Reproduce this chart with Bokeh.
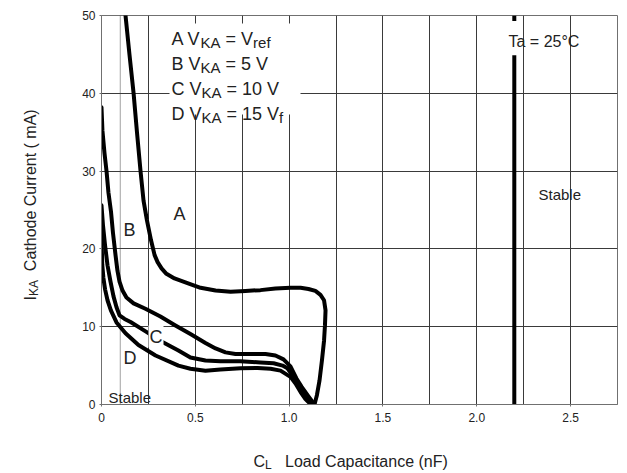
import math
from bokeh.plotting import figure
from bokeh.models import Label, FixedTicker, BoxAnnotation, Range1d
from bokeh.layouts import row, column
from bokeh.embed import file_html
from bokeh.resources import INLINE

# ---------------- data ----------------
x_min, x_max = 0.0, 2.75
y_min, y_max = 0.0, 50.0
x_tick_values = [0, 0.5, 1.0, 1.5, 2.0, 2.5]
x_tick_labels = ["0", "0.5", "1.0", "1.5", "2.0", "2.5"]
x_grid_values = [0.25, 0.5, 0.75, 1.0, 1.25, 1.5, 1.75, 2.0, 2.25, 2.5]
y_tick_values = [0, 10, 20, 30, 40, 50]
y_tick_labels = ["0", "10", "20", "30", "40", "50"]
y_grid_values = [10, 20, 30, 40]

# Curve A: VKA = Vref
curve_a_x = [0.128, 0.149, 0.171, 0.189, 0.208, 0.224, 0.242, 0.264, 0.283, 0.299, 0.32,
             0.346, 0.389, 0.458, 0.528, 0.608, 0.688, 0.767, 0.847, 0.927, 1.007, 1.061,
             1.103, 1.14, 1.167, 1.186, 1.194, 1.191, 1.186, 1.175, 1.162, 1.148, 1.135]
curve_a_y = [50, 45, 40, 35, 30, 26.2, 23.7, 21.1, 19.2, 18.3, 17.5,
             16.8, 16.2, 15.6, 15.0, 14.65, 14.5, 14.6, 14.7, 14.9, 15.0, 15.0,
             14.85, 14.6, 14.1, 13.4, 12.1, 10.2, 8.2, 5.7, 3.1, 1.2, 0]
# Curve B: VKA = 5 V
curve_b_x = [0, 0.005, 0.016, 0.027, 0.037, 0.051, 0.061, 0.075, 0.085, 0.096, 0.112,
             0.133, 0.171, 0.234, 0.314, 0.394, 0.474, 0.554, 0.608, 0.661, 0.714, 0.794,
             0.874, 0.927, 0.97, 1.007, 1.039, 1.066, 1.103, 1.135]
curve_b_y = [38.2, 35.2, 32.3, 29.95, 27.25, 24.7, 22.1, 19.15, 17.2, 15.8, 14.65,
             13.75, 13.0, 12.3, 11.3, 10.15, 9.05, 7.9, 7.2, 6.7, 6.5, 6.5,
             6.5, 6.3, 5.8, 4.9, 3.35, 2.3, 1.05, 0]
# Curve C: VKA = 10 V
curve_c_x = [0, 0.008, 0.019, 0.032, 0.048, 0.064, 0.08, 0.096, 0.123, 0.155, 0.235, 0.32,
             0.41, 0.474, 0.554, 0.634, 0.74, 0.847, 0.917, 0.965, 0.991, 1.018, 1.039,
             1.066, 1.087, 1.13]
curve_c_y = [25.6, 23.0, 20.45, 17.9, 15.8, 13.9, 12.5, 11.45, 11.0, 10.6, 9.4, 8.1,
             6.95, 6.05, 5.65, 5.55, 5.55, 5.4, 5.3, 5.0, 4.65, 3.75, 2.85,
             1.8, 1.05, 0]
# Curve D: VKA = 15 V
curve_d_x = [0, 0.002, 0.004, 0.01, 0.019, 0.032, 0.05, 0.08, 0.128, 0.197, 0.288, 0.41,
             0.474, 0.554, 0.634, 0.741, 0.832, 0.901, 0.954, 1.007, 1.034, 1.061, 1.087,
             1.114]
curve_d_y = [21.6, 19.8, 18.0, 16.3, 14.8, 13.4, 12.1, 10.55, 9.15, 7.65, 6.3, 5.0,
             4.6, 4.35, 4.5, 4.65, 4.7, 4.6, 4.35, 3.55, 2.7, 1.6, 0.7,
             0.05]

stable_limit_x = 2.2
stable_limit_low = [0, 44.9]
stable_limit_high = [49.3, 50]
dotted_x = 0.1

legend_rows = [
    [("A V", "main"), ("KA", "sub"), (" = V", "main"), ("ref", "sub")],
    [("B V", "main"), ("KA", "sub"), (" = 5 V", "main")],
    [("C V", "main"), ("KA", "sub"), (" = 10 V", "main")],
    [("D V", "main"), ("KA", "sub"), (" = 15 V", "main"), ("f", "sub")],
]
x_title = [("C", "main"), ("L", "sub"), ("   Load Capacitance  (nF)", "main")]
y_title = [("I", "main"), ("KA", "sub"), ("  Cathode Current ( mA)", "main")]

# ---------------- layout ----------------
FONT = "Liberation Sans"
TXT = "#222222"
LEFT_W = 45
TOTAL_W, MAIN_H, BOTTOM_H = 619, 440, 32
FR_L, FR_R, FR_T, FR_B = 101, 617, 15, 404   # frame in page pixels


def X(px):
    return x_min + (px - FR_L) / (FR_R - FR_L) * (x_max - x_min)


def Y(py):
    return y_min + (FR_B - py) / (FR_B - FR_T) * (y_max - y_min)


def ident(v):
    return v


W = {'A': .667, 'B': .667, 'C': .722, 'D': .722, 'V': .667, 'K': .667, 'I': .278,
     'L': .556, ' ': .278, '=': .584, '5': .556, '1': .556, '0': .556, 'r': .333,
     'e': .556, 'f': .278}


def width(t, size):
    return sum(W.get(c, .556) for c in t) * size


def place(fig, fx, fy, pieces, px, py, main, sub, dy, angle=0.0):
    cur = 0.0
    for text, kind in pieces:
        size = main if kind == "main" else sub
        shift = dy if kind == "sub" else 0
        stripped = text.lstrip(" ")
        cur += width(text[:len(text) - len(stripped)], size)
        if angle == 0:
            lx, ly = px + cur, py + shift
        else:
            lx, ly = px + shift, py - cur
        fig.add_layout(Label(x=fx(lx), y=fy(ly), text=stripped, text_font=FONT,
                             text_font_size=f"{size}px", text_color=TXT,
                             text_align="left", text_baseline="alphabetic",
                             angle=angle))
        cur += width(stripped, size)


main_w = TOTAL_W - LEFT_W
p = figure(width=main_w, height=MAIN_H, output_backend="svg", toolbar_location=None,
           x_range=(x_min, x_max), y_range=(y_min, y_max),
           min_border_left=FR_L - LEFT_W, min_border_right=TOTAL_W - FR_R,
           min_border_top=FR_T, min_border_bottom=MAIN_H - FR_B)
p.background_fill_color = "white"
p.border_fill_color = "white"
p.outline_line_color = "#707070"
p.outline_line_width = 1

p.xaxis.ticker = FixedTicker(ticks=x_tick_values)
p.xaxis.major_label_overrides = {v: l for v, l in zip(x_tick_values, x_tick_labels)}
p.yaxis.ticker = FixedTicker(ticks=y_tick_values)
p.yaxis.major_label_overrides = {v: l for v, l in zip(y_tick_values, y_tick_labels)}
for ax in (p.xaxis[0], p.yaxis[0]):
    ax.axis_line_color = "#707070"
    ax.major_tick_line_color = "#707070"
    ax.major_tick_out = 2
    ax.major_tick_in = 0
    ax.minor_tick_out = 0
    ax.minor_tick_in = 0
    ax.major_label_text_font = FONT
    ax.major_label_text_font_size = "12px"
    ax.major_label_text_color = TXT
p.xaxis.major_label_standoff = 6
p.yaxis.major_label_standoff = 4

p.xgrid.ticker = FixedTicker(ticks=x_grid_values)
p.ygrid.ticker = FixedTicker(ticks=y_grid_values)
p.xgrid.grid_line_color = "#3a3a3a"
p.ygrid.grid_line_color = "#3a3a3a"

# dotted marker line
p.line([dotted_x, dotted_x], [y_min, y_max], line_color="#444444", line_width=1,
       line_dash="1 1")

# curves
for cx, cy in ((curve_a_x, curve_a_y), (curve_b_x, curve_b_y),
               (curve_c_x, curve_c_y), (curve_d_x, curve_d_y)):
    p.line(cx, cy, line_color="black", line_width=4, line_join="round", line_cap="round")

# stability limit line
p.line([stable_limit_x] * 2, stable_limit_low, line_color="black", line_width=4)
p.line([stable_limit_x] * 2, stable_limit_high, line_color="black", line_width=4)

# legend background
p.add_layout(BoxAnnotation(left=X(169), right=X(300), top=Y(23), bottom=Y(114),
                           fill_color="white", fill_alpha=1.0, line_color=None))

# legend
for i, r in enumerate(legend_rows):
    place(p, X, Y, r, 171, 38 + 25 * i, 18, 15, 4)

# annotations
notes = [("Ta = 25°C", 508, 41, 16), ("Stable", 538, 194, 15), ("Stable", 108, 397, 15),
         ("A", 173, 213, 18), ("B", 123, 229, 18), ("D", 123, 357, 18)]
for t, px, py, s in notes:
    p.add_layout(Label(x=X(px), y=Y(py), text=t, text_font=FONT, text_font_size=f"{s}px",
                       text_color=TXT, text_align="left", text_baseline="alphabetic"))
# "C" curve tag on a white patch
p.add_layout(Label(x=X(148), y=Y(336), text="C", text_font=FONT, text_font_size="18px",
                   text_color=TXT, text_align="left", text_baseline="alphabetic",
                   background_fill_color="white", padding=1))


def aux(w, h, xr, yr):
    f = figure(width=w, height=h, output_backend="svg", toolbar_location=None,
               x_range=Range1d(*xr), y_range=Range1d(*yr),
               x_axis_type=None, y_axis_type=None, min_border=0)
    f.outline_line_color = None
    f.background_fill_color = "white"
    f.border_fill_color = "white"
    return f


total_h = MAIN_H + BOTTOM_H
# the left panel's frame is aligned with the main frame (FR_T..FR_B) by the row layout
left = aux(LEFT_W, MAIN_H, (0, LEFT_W), (FR_B, FR_T))
bottom = aux(TOTAL_W, BOTTOM_H, (0, TOTAL_W), (total_h, MAIN_H))

place(bottom, ident, ident, x_title, 253, 461, 16, 12, 3)
place(left, ident, ident, y_title, 30, 300, 16, 12, 3, angle=math.pi / 2)

layout = column(row(left, p), bottom)
open("out.html", "w").write(file_html(layout, INLINE))
